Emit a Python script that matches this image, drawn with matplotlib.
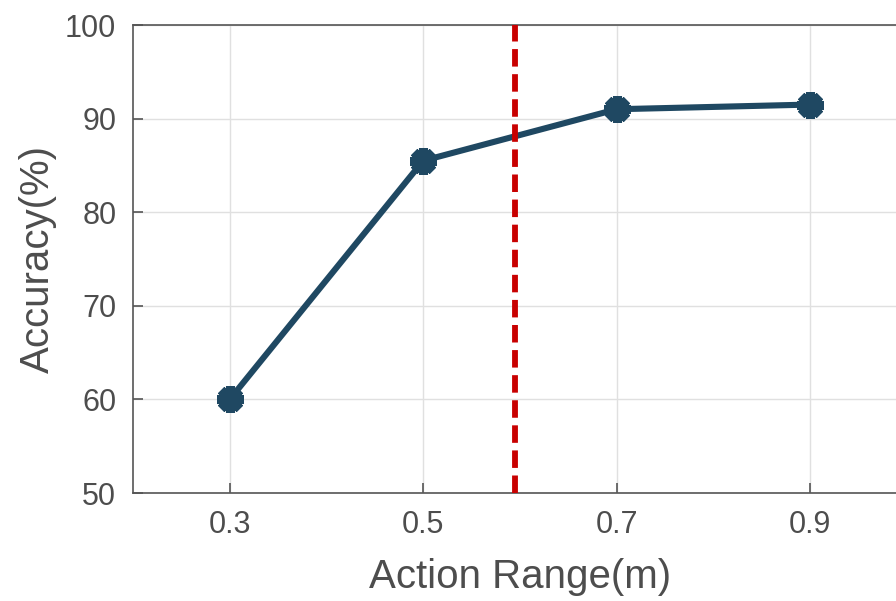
import matplotlib
matplotlib.use('Agg')
import matplotlib.pyplot as plt

plt.rcParams['font.family'] = ['Liberation Sans', 'DejaVu Sans']

action_range = [0.3, 0.5, 0.7, 0.9]
accuracy = [60, 85.5, 91, 91.5]
threshold = 0.595
xticks = [0.3, 0.5, 0.7, 0.9]
yticks = [50, 60, 70, 80, 90, 100]

fig = plt.figure(figsize=(8.96, 6.01), dpi=100)
ax = fig.add_axes([0.1484, 0.1797, 0.8638, 0.7787])

ax.plot(action_range, accuracy, color='#1f4862', linewidth=4.4,
        marker=(8, 2, 0), markersize=19, markeredgewidth=6.5, zorder=3)
ax.axvline(threshold, color='#c80000', linewidth=4.2, linestyle=(0, (3.0, 1.3)), zorder=4)

ax.set_xlim(0.2, 1.0)
ax.set_ylim(50, 100)
ax.set_xticks(xticks)
ax.set_yticks(yticks)
ax.grid(True, color='#e0e0e0', linewidth=1)
ax.set_axisbelow(True)

grey = '#4d4d4d'
for s in ax.spines.values():
    s.set_color('#555555')
    s.set_linewidth(1.2)
ax.tick_params(direction='in', length=7, width=1.2, colors='#555555',
               labelcolor=grey, labelsize=22, pad=12)
ax.set_xlabel('Action Range(m)', fontsize=29, color=grey, labelpad=13)
ax.set_ylabel('Accuracy(%)', fontsize=29, color=grey, labelpad=6)

fig.savefig('out.png', dpi=100)
